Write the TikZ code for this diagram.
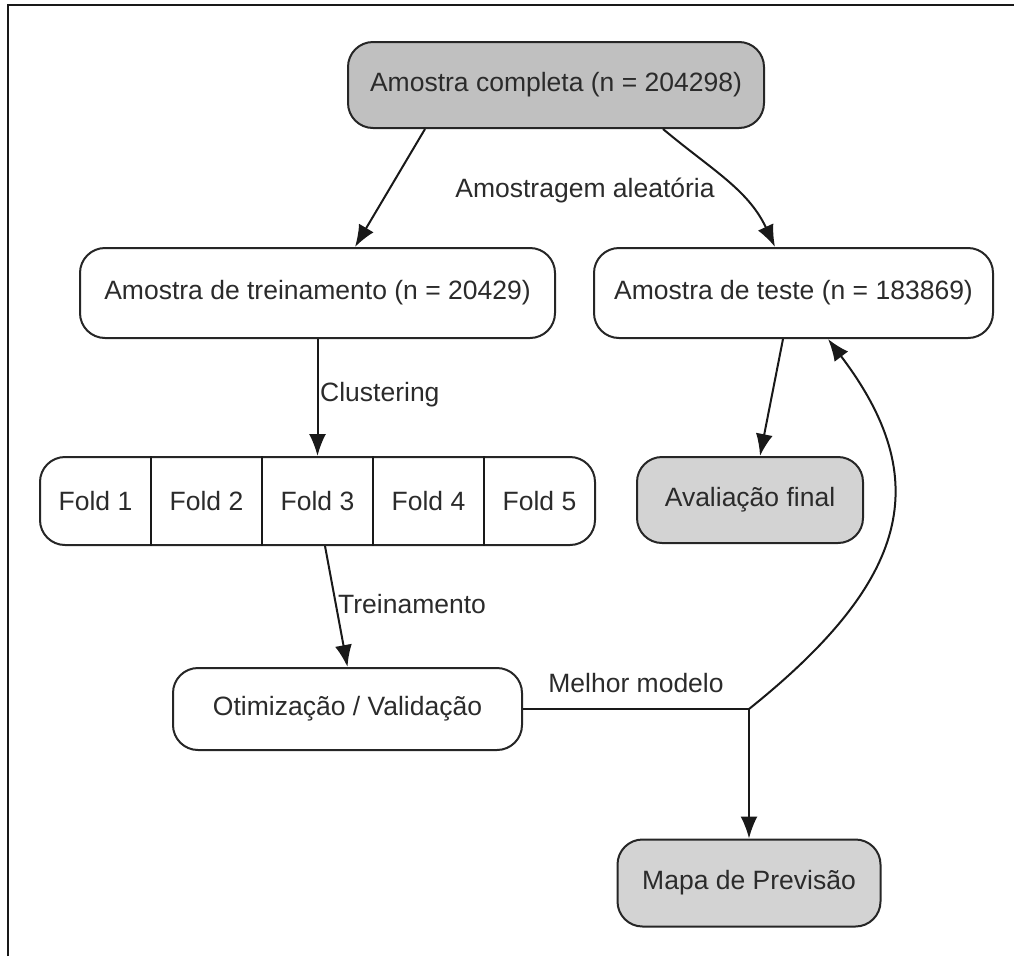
\documentclass[tikz,border=0pt]{standalone}
\usepackage{fontspec}
\setmainfont{Liberation Sans}
\usetikzlibrary{arrows.meta,calc}
\definecolor{dkfill}{HTML}{C0C0C0}
\definecolor{ltfill}{HTML}{D3D3D3}
\definecolor{txt}{HTML}{2B2B2B}
\begin{document}
\begin{tikzpicture}[x=1pt,y=-1pt,
  every node/.style={font=\fontsize{26.5}{31}\selectfont, text=txt},
  box/.style={draw=black!85, line width=2pt, rounded corners=25pt, inner sep=0pt, fill=white},
  dark/.style={box, fill=dkfill},
  light/.style={box, fill=ltfill},
  lab/.style={inner sep=0pt},
  conn/.style={draw=black!90, line width=2pt, -{Latex[length=22pt,width=17pt]}},
  plain/.style={draw=black!90, line width=2pt}
]
\useasboundingbox (0,0) rectangle (1014,956);
\draw[line width=2.2pt, black!90] (8,956) -- (8,5) -- (1014,5);

\node[dark, minimum width=416pt, minimum height=86pt] (full) at (556,85) {Amostra completa (n = 204298)};
\node[box, minimum width=475pt, minimum height=90pt] (train) at (317.5,293) {Amostra de treinamento (n = 20429)};
\node[box, minimum width=399pt, minimum height=90pt] (test) at (793.5,293) {Amostra de teste (n = 183869)};
\node[box, minimum width=555pt, minimum height=88pt] (folds) at (317.5,501) {};
\foreach \i/\x in {1/95.5,2/206.5,3/317.5,4/428.5,5/539.5}
  \node (f\i) at (\x,501) {Fold \i};
\foreach \x in {151,262,373,484}
  \draw[plain] (\x,0 |- folds.north) -- (\x,0 |- folds.south);
\node[light, minimum width=226pt, minimum height=86pt] (aval) at (750,500) {Avaliação final};
\node[box, minimum width=349pt, minimum height=82pt] (otim) at (347.5,709) {Otimização / Validação};
\node[light, minimum width=263pt, minimum height=87pt] (mapa) at (749,883) {Mapa de Previsão};

\coordinate (junc) at (749,709);

\draw[conn] ($(full.south)+(-131,0)$) -- ($(train.north)+(37.5,0)$);
\draw[conn] ($(full.south)+(107,0)$) to[out=-40, in=115] ($(test.north)+(-18.5,0)$);
\node[lab] (lamo) at (585,190) {Amostragem aleatória};

\draw[conn] (train.south) -- (folds.north);
\node[lab, anchor=west] (lclu) at (320,395) {Clustering};

\draw[conn] ($(folds.south)+(7.5,0)$) -- (otim.north);
\node[lab, anchor=west] (ltre) at (338,604) {Treinamento};

\draw[conn] ($(test.south)+(-10.5,0)$) -- ($(aval.north)+(10,0)$);

\draw[plain] (otim.east) -- (junc);
\node[lab] (lmel) at (636,683) {Melhor modelo};
\draw[conn] (junc) -- (mapa.north);
\draw[conn] (junc) .. controls (910,580) and (935,480) .. ($(test.south)+(34.5,0)$);
\end{tikzpicture}
\end{document}
